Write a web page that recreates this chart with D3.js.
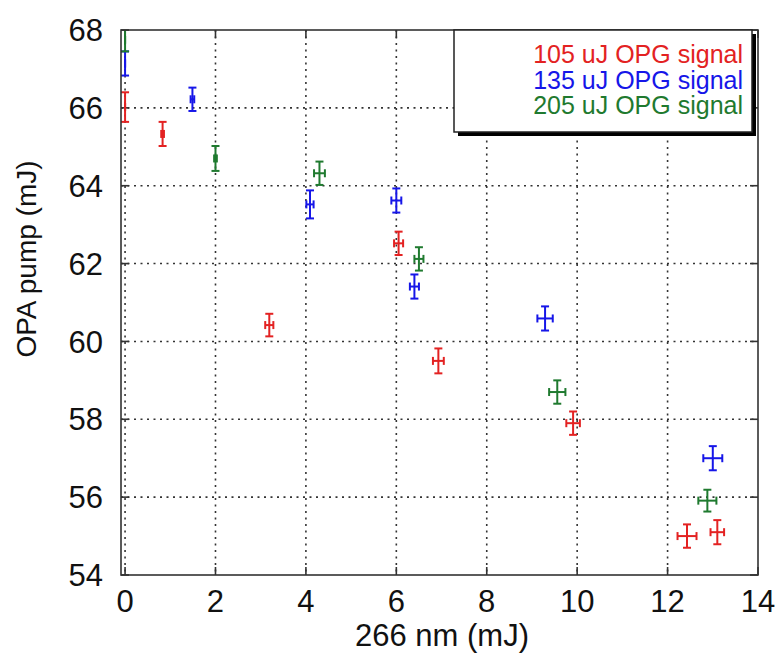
<!DOCTYPE html>
<html>
<head>
<meta charset="utf-8">
<script src="https://cdn.jsdelivr.net/npm/d3@7"></script>
<style>
  body { margin: 0; background: #fff; }
  svg text { font-family: Arial, "Liberation Sans", sans-serif; }
</style>
</head>
<body>
<div id="chart"></div>
<script>
// values
var seriesNames = ["105 uJ OPG signal", "135 uJ OPG signal", "205 uJ OPG signal"];
var seriesColors = ["#e32222", "#1616e8", "#1f7a2f"];

var redX    = [0, 0.83, 3.19, 6.05, 6.93, 9.91, 12.43, 13.1];
var redY    = [66.02, 65.33, 60.42, 62.52, 59.5, 57.9, 55.0, 55.1];
var redXErr = [0, 0.03, 0.09, 0.10, 0.12, 0.15, 0.21, 0.15];
var redYErr = [0.38, 0.31, 0.29, 0.30, 0.32, 0.3, 0.3, 0.31];

var blueX    = [0, 1.49, 4.09, 6.0, 6.4, 9.29, 13.0];
var blueY    = [67.14, 66.22, 63.52, 63.62, 61.41, 60.59, 57.0];
var blueXErr = [0, 0.04, 0.08, 0.11, 0.10, 0.17, 0.21];
var blueYErr = [0.31, 0.3, 0.36, 0.31, 0.31, 0.31, 0.31];

var greenX    = [0, 2.0, 4.3, 6.5, 9.56, 12.88];
var greenY    = [67.75, 64.7, 64.32, 62.12, 58.7, 55.91];
var greenXErr = [0, 0.03, 0.12, 0.10, 0.18, 0.2];
var greenYErr = [0.3, 0.32, 0.3, 0.3, 0.3, 0.28];

var xTicks = [0, 2, 4, 6, 8, 10, 12, 14];
var yTicks = [54, 56, 58, 60, 62, 64, 66, 68];

var width = 778, height = 662;
var pLeft = 121, pRight = 758, pTop = 30, pBottom = 575;

var svg = d3.select('#chart').append('svg')
  .attr('width', width)
  .attr('height', height);

var x = d3.scaleLinear().domain([-0.09, 14]).range([pLeft, pRight]);
var y = d3.scaleLinear().domain([54, 68]).range([pBottom, pTop]);

svg.append('clipPath').attr('id', 'plotclip')
  .append('rect')
  .attr('x', pLeft).attr('y', pTop)
  .attr('width', pRight - pLeft).attr('height', pBottom - pTop);

// grid
var grid = svg.append('g')
  .attr('stroke', '#333')
  .attr('stroke-width', 1.6)
  .attr('stroke-dasharray', '2,4.5');
grid.selectAll('.vg')
  .data(xTicks.filter(function(d) { return d < 14; }))
  .enter().append('line')
  .attr('x1', function(d) { return x(d); })
  .attr('x2', function(d) { return x(d); })
  .attr('y1', pTop).attr('y2', pBottom);
grid.selectAll('.hg')
  .data(yTicks.filter(function(d) { return d > 54 && d < 68; }))
  .enter().append('line')
  .attr('x1', pLeft).attr('x2', pRight)
  .attr('y1', function(d) { return y(d); })
  .attr('y2', function(d) { return y(d); });

// inward ticks
var ticks = svg.append('g').attr('stroke', '#333').attr('stroke-width', 1.6);
xTicks.forEach(function(d) {
  ticks.append('line').attr('x1', x(d)).attr('x2', x(d)).attr('y1', pBottom).attr('y2', pBottom - 8);
  ticks.append('line').attr('x1', x(d)).attr('x2', x(d)).attr('y1', pTop).attr('y2', pTop + 8);
});
yTicks.forEach(function(d) {
  ticks.append('line').attr('x1', pLeft).attr('x2', pLeft + 8).attr('y1', y(d)).attr('y2', y(d));
  ticks.append('line').attr('x1', pRight).attr('x2', pRight - 8).attr('y1', y(d)).attr('y2', y(d));
});

// error bars
var allSeries = [
  {xs: redX, ys: redY, ex: redXErr, ey: redYErr},
  {xs: blueX, ys: blueY, ex: blueXErr, ey: blueYErr},
  {xs: greenX, ys: greenY, ex: greenXErr, ey: greenYErr}
];
var marks = svg.append('g').attr('clip-path', 'url(#plotclip)');
var cap = 4;
allSeries.forEach(function(s, k) {
  var g = marks.append('g')
    .attr('stroke', seriesColors[k])
    .attr('stroke-width', 2)
    .attr('fill', 'none');
  s.xs.forEach(function(xv, i) {
    var cx = x(xv), cy = y(s.ys[i]);
    var y0 = y(s.ys[i] - s.ey[i]), y1 = y(s.ys[i] + s.ey[i]);
    var x0 = x(xv - s.ex[i]), x1 = x(xv + s.ex[i]);
    g.append('line').attr('x1', cx).attr('x2', cx).attr('y1', y0).attr('y2', y1);
    g.append('line').attr('x1', cx - cap).attr('x2', cx + cap).attr('y1', y0).attr('y2', y0);
    g.append('line').attr('x1', cx - cap).attr('x2', cx + cap).attr('y1', y1).attr('y2', y1);
    g.append('line').attr('x1', x0).attr('x2', x1).attr('y1', cy).attr('y2', cy);
    g.append('line').attr('x1', x0).attr('x2', x0).attr('y1', cy - cap).attr('y2', cy + cap);
    g.append('line').attr('x1', x1).attr('x2', x1).attr('y1', cy - cap).attr('y2', cy + cap);
  });
});

// frame
svg.append('rect')
  .attr('x', pLeft).attr('y', pTop)
  .attr('width', pRight - pLeft).attr('height', pBottom - pTop)
  .attr('fill', 'none').attr('stroke', '#333').attr('stroke-width', 1.6);

// tick labels
svg.append('g').selectAll('text')
  .data(xTicks).enter().append('text')
  .attr('x', function(d) { return x(d); })
  .attr('y', 612)
  .attr('text-anchor', 'middle')
  .attr('font-size', 31)
  .attr('fill', '#111')
  .text(function(d) { return d; });
svg.append('g').selectAll('text')
  .data(yTicks).enter().append('text')
  .attr('x', 103)
  .attr('y', function(d) { return y(d); })
  .attr('dy', '0.36em')
  .attr('text-anchor', 'end')
  .attr('font-size', 31)
  .attr('fill', '#111')
  .text(function(d) { return d; });

// axis titles
svg.append('text')
  .attr('x', 442).attr('y', 646)
  .attr('text-anchor', 'middle')
  .attr('font-size', 31)
  .attr('fill', '#111')
  .text('266 nm (mJ)');
svg.append('text')
  .attr('transform', 'translate(36,' + 259 + ') rotate(-90)')
  .attr('text-anchor', 'middle')
  .attr('font-size', 28)
  .attr('fill', '#111')
  .text('OPA pump (mJ)');

// legend with drop shadow
var lg = svg.append('g');
lg.append('rect')
  .attr('x', 458).attr('y', 34).attr('width', 298).attr('height', 102)
  .attr('fill', '#000');
lg.append('rect')
  .attr('x', 454).attr('y', 30).attr('width', 298).attr('height', 102)
  .attr('fill', '#fff').attr('stroke', '#222').attr('stroke-width', 1.5);
lg.selectAll('text')
  .data(seriesNames).enter().append('text')
  .attr('x', 743)
  .attr('y', function(d, i) { return 63 + i * 25.5; })
  .attr('text-anchor', 'end')
  .attr('font-size', 25)
  .attr('fill', function(d, i) { return seriesColors[i]; })
  .text(function(d) { return d; });
</script>
</body>
</html>
